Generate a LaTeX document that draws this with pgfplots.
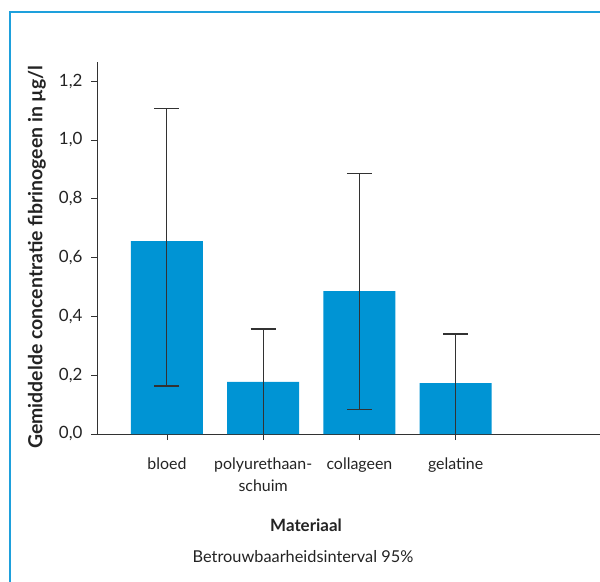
\documentclass[border=0pt]{standalone}
\usepackage{pgfplots}
\pgfplotsset{compat=1.18}
\usepackage{pgfplotstable}
\usepackage{fontspec}
\setmainfont{Lato}
\definecolor{barblue}{RGB}{0,148,212}
\definecolor{frameblue}{RGB}{30,160,220}
\definecolor{axgray}{RGB}{50,50,50}
\definecolor{txt}{RGB}{35,35,35}
\pgfplotstableread{
x y ep em
0 0.656 0.452 0.493
1 0.177 0.180 0.250
2 0.486 0.401 0.404
3 0.173 0.167 0.250
}\datatable
\begin{document}
\begin{tikzpicture}
\path[use as bounding box] (0,0) rectangle (600bp,-582bp);
\draw[frameblue, line width=1.2bp] (10bp,-582bp) -- (10bp,-12bp) -- (600bp,-12bp);
\begin{axis}[
  at={(97bp,-434bp)}, anchor=south west,
  scale only axis, width=503bp, height=372bp,
  xmin=-0.727, xmax=4.5, ymin=0, ymax=1.265,
  axis lines*=left, axis line style={axgray, line width=1bp},
  xtick=data, xticklabels={bloed, {polyurethaan-\\schuim}, collageen, gelatine},
  xticklabel style={align=center, font=\fontsize{16}{22}\selectfont, text=txt, yshift=-14bp},
  ytick={0,0.2,...,1.2},
  yticklabel style={font=\fontsize{17}{19}\selectfont, text=txt, xshift=-5bp},
  /pgf/number format/.cd, fixed, fixed zerofill, precision=1, use comma, assume math mode=true,
  /pgfplots/.cd,
  tick style={axgray, line width=0.8bp},
  tick align=outside, major tick length=6bp,
  ybar, bar width=72bp, bar shift=0pt,
]
\addplot[fill=barblue, draw=none,
  error bars/.cd, y dir=both, y explicit,
  error bar style={axgray, line width=1bp},
  error mark options={axgray, line width=1.2bp, mark size=12.5bp, rotate=90}]
  table[x=x, y=y, y error plus=ep, y error minus=em] {\datatable};
\end{axis}
\node[rotate=90, font=\fontsize{19.5}{21}\selectfont\bfseries, text=txt] at (37bp,-257bp) {Gemiddelde concentratie fibrinogeen in µg/l};
\node[font=\fontsize{17}{19}\selectfont\bfseries, text=txt] at (306bp,-525bp) {Materiaal};
\node[font=\fontsize{16.4}{18}\selectfont, text=txt] at (303bp,-557bp) {Betrouwbaarheidsinterval 95\%};
\end{tikzpicture}
\end{document}
